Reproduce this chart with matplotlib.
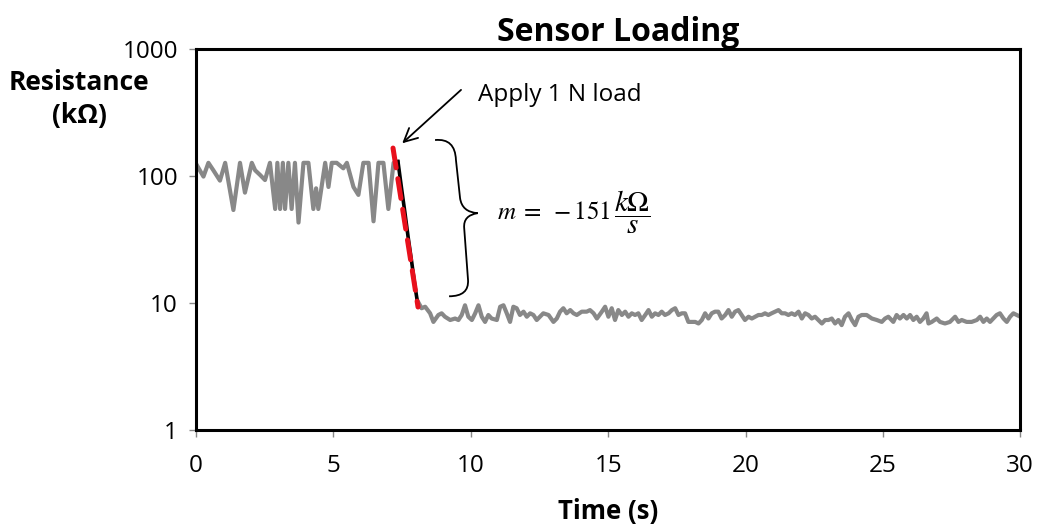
"""Sensor loading curve: resistance vs time on a log axis."""

import matplotlib
matplotlib.use("Agg")
import matplotlib.pyplot as plt
from matplotlib.path import Path
from matplotlib.patches import PathPatch

# --- data --------------------------------------------------------------
# before the load (gray)
t_pre = [0.0, 0.27, 0.45, 0.63, 0.87, 1.06, 1.36, 1.60, 1.78, 2.03, 2.15,
         2.33, 2.51, 2.69, 2.88, 2.96, 3.06, 3.16, 3.24, 3.36, 3.48, 3.60,
         3.73, 3.91, 4.09, 4.27, 4.37, 4.45, 4.70, 4.82, 4.94, 5.12, 5.36,
         5.49, 5.73, 5.91, 6.09, 6.28, 6.46, 6.64, 6.82, 7.00, 7.19, 7.35]
r_pre = [125, 99, 127, 111, 92, 127, 54, 127, 74, 127, 111,
         102, 93, 127, 55, 127, 55, 127, 55, 127, 55, 127,
         43, 127, 127, 55, 80, 55, 127, 82, 127, 127, 115,
         127, 82, 71, 127, 127, 44, 127, 127, 55, 127, 130]

# during the load step (black)
t_step = [7.35, 7.48, 7.60, 7.72, 7.85, 7.97, 8.05]
r_step = [130, 80, 52, 33, 21, 13.5, 10.5]

# after the load (gray)
t_post = [8.05, 8.21, 8.34, 8.52, 8.64, 8.82, 8.94, 9.06, 9.25, 9.43, 9.55,
          9.67, 9.79, 9.91, 10.04, 10.16, 10.28, 10.40, 10.52, 10.64, 10.76,
          10.95, 11.07, 11.19, 11.31, 11.43, 11.55, 11.67, 11.79, 11.92,
          12.04, 12.16, 12.28, 12.40, 12.52, 12.64, 12.83, 13.01, 13.13,
          13.25, 13.37, 13.49, 13.62, 13.74, 13.86, 14.04, 14.22, 14.34,
          14.47, 14.59, 14.77, 14.89, 15.01, 15.13, 15.25, 15.37, 15.50,
          15.62, 15.74, 15.86, 15.98, 16.10, 16.22, 16.35, 16.47, 16.59,
          16.71, 16.83, 16.95, 17.07, 17.20, 17.32, 17.44, 17.56, 17.68,
          17.80, 17.92, 18.05, 18.17, 18.29, 18.41, 18.53, 18.65, 18.77,
          18.89, 19.01, 19.13, 19.26, 19.38, 19.50, 19.62, 19.74, 19.86,
          19.98, 20.11, 20.23, 20.35, 20.47, 20.59, 20.71, 20.83, 20.95,
          21.08, 21.20, 21.32, 21.44, 21.56, 21.68, 21.80, 21.93, 22.05,
          22.17, 22.29, 22.41, 22.53, 22.65, 22.78, 22.90, 23.02, 23.14,
          23.26, 23.38, 23.50, 23.62, 23.75, 23.87, 23.99, 24.11, 24.23,
          24.41, 24.60, 24.78, 24.96, 25.08, 25.20, 25.38, 25.50, 25.62,
          25.75, 25.87, 25.99, 26.11, 26.23, 26.35, 26.47, 26.59, 26.66,
          26.78, 26.96, 27.08, 27.26, 27.44, 27.63, 27.75, 27.87, 28.05,
          28.23, 28.42, 28.54, 28.66, 28.78, 28.90, 29.02, 29.14, 29.26,
          29.39, 29.51, 29.63, 29.75, 29.87, 30.0]
r_post = [10.5, 9.1, 9.35, 8.3, 7.1, 8.05, 8.3, 7.8, 7.35, 7.55, 7.35,
          8.05, 9.6, 7.8, 7.35, 8.3, 9.6, 7.8, 7.1, 8.05, 7.55,
          7.35, 9.35, 9.6, 8.3, 7.1, 9.35, 9.1, 8.05, 8.55,
          7.8, 8.3, 8.05, 7.35, 7.8, 8.3, 8.05, 7.1, 7.55,
          8.55, 9.1, 8.3, 8.8, 8.3, 8.05, 8.55, 8.55, 8.8,
          8.3, 7.55, 8.55, 9.35, 7.8, 9.1, 7.35, 8.8, 8.05,
          8.55, 7.8, 8.3, 8.05, 8.3, 7.35, 8.05, 8.8, 7.8,
          8.3, 8.05, 8.55, 8.05, 8.3, 8.8, 9.1, 8.05, 8.3,
          8.3, 7.1, 7.1, 7.1, 6.9, 7.35, 8.3, 7.55, 8.3,
          8.55, 8.55, 7.55, 8.05, 8.8, 7.8, 8.55, 8.8, 8.05,
          7.35, 7.8, 7.55, 7.8, 8.05, 8.05, 8.3, 8.05, 8.3,
          8.55, 8.8, 8.3, 8.3, 8.05, 8.3, 8.05, 8.55, 7.55,
          8.3, 8.05, 7.55, 7.8, 7.35, 6.9, 7.35, 7.35, 7.55,
          6.9, 7.35, 6.7, 7.8, 8.3, 7.35, 6.7, 7.8, 8.05,
          8.05, 7.55, 7.35, 7.1, 7.55, 7.8, 7.1, 8.05, 7.55,
          8.05, 7.55, 8.05, 7.35, 7.8, 7.1, 7.55, 8.3, 6.9,
          7.1, 7.55, 7.1, 6.9, 7.1, 7.8, 7.1, 7.35, 7.1,
          7.1, 7.35, 7.8, 7.1, 7.55, 7.1, 7.55, 8.05, 8.3,
          7.55, 7.1, 7.8, 8.3, 8.05, 7.8]

# linear fit across the step (red dashed), end points
t_fit = [7.17, 8.08]
r_fit = [166, 9.3]

x_ticks = [0, 5, 10, 15, 20, 25, 30]
y_ticks = [1, 10, 100, 1000]

GRAY = "#888888"
RED = "#e8101c"
FONT = ["Open Sans", "DejaVu Sans"]

plt.rcParams["font.family"] = FONT
plt.rcParams["mathtext.fontset"] = "stix"

fig = plt.figure(figsize=(10.4, 5.27), dpi=100)
ax = fig.add_axes([0.1885, 0.184, 0.7925, 0.723])

ax.plot(t_pre, r_pre, color=GRAY, lw=3, solid_joinstyle="round",
        solid_capstyle="round")
ax.plot(t_post, r_post, color=GRAY, lw=3, solid_joinstyle="round",
        solid_capstyle="round")
ax.plot(t_step, r_step, color="black", lw=2.6, solid_joinstyle="round")
ax.plot(t_fit, r_fit, color=RED, lw=3.6, linestyle=(0, (4, 2.2)),
        dash_capstyle="round")

ax.set_yscale("log")
ax.set_xlim(0, 30)
ax.set_ylim(1, 1000)
ax.set_xticks(x_ticks)
ax.set_yticks(y_ticks)
ax.set_yticklabels([str(v) for v in y_ticks])
ax.minorticks_off()
ax.tick_params(axis="both", labelsize=17.5, direction="out", length=5,
               width=1, color="#888888")
ax.tick_params(axis="x", pad=12)
ax.tick_params(axis="y", pad=8)
for sp in ax.spines.values():
    sp.set_linewidth(2.2)
    sp.set_color("black")

ax.set_title("Sensor Loading", fontsize=23, fontweight="bold", pad=6,
             x=0.512)
ax.set_xlabel("Time (s)", fontsize=18.5, fontweight="bold", labelpad=15)
fig.text(79 / 1040, 1 - 99 / 527, "Resistance\n(kΩ)", fontsize=19,
         fontweight="bold", ha="center", va="center", linespacing=1.3)

# load arrow
ax.annotate("", xy=(7.43, 175), xytext=(9.72, 493),
            arrowprops=dict(arrowstyle="->", color="black", lw=1.3,
                            mutation_scale=24))
ax.text(10.27, 435, "Apply 1 N load", fontsize=17.5, ha="left",
        va="center")

# curly brace beside the step
brace_pts = [(8.70, 192), (9.43, 199), (9.46, 134), (9.61, 67),
             (9.68, 52), (10.25, 51), (9.72, 49), (9.76, 39),
             (9.90, 15.2), (9.94, 11.3), (9.21, 11.3)]
brace_codes = [Path.MOVETO, Path.CURVE3, Path.CURVE3, Path.LINETO,
               Path.CURVE3, Path.CURVE3, Path.CURVE3, Path.CURVE3,
               Path.LINETO, Path.CURVE3, Path.CURVE3]
brace = PathPatch(Path(brace_pts, brace_codes), facecolor="none",
                  edgecolor="black", lw=1.3)
ax.add_patch(brace)

# slope label: m = -151 kOhm/s, fraction glued to the right of the number
slope_txt = ax.text(10.96, 52, r"$m\;=\;-151$", fontsize=18, ha="left",
                    va="center")
ax.annotate(r"$\dfrac{k\Omega}{s}$", xy=(1.0, 0.5), xycoords=slope_txt,
            xytext=(2, 0), textcoords="offset points", fontsize=21,
            ha="left", va="center")

fig.savefig("out.png", dpi=100)
